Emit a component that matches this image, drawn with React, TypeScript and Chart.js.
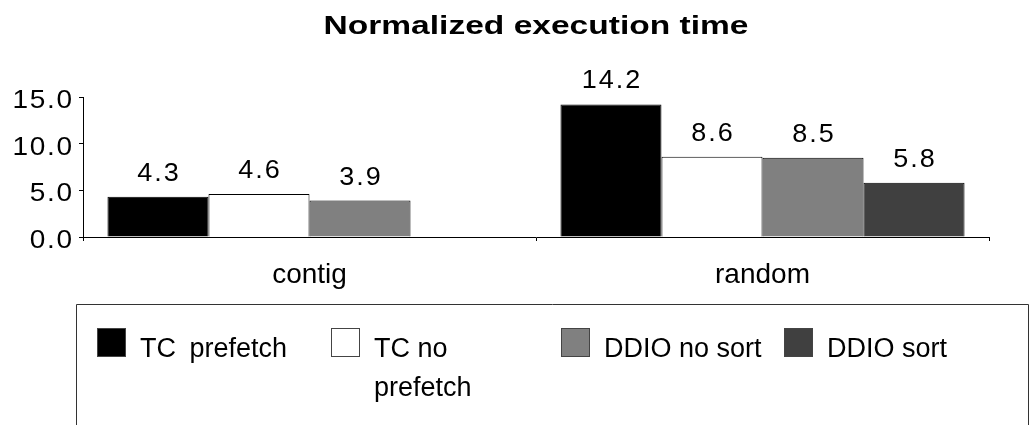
import React, { useEffect, useRef } from "react";
import { Chart, registerables } from "chart.js";

Chart.register(...registerables);

// ---- Data ----
const CATEGORIES = ["contig", "random"];
const SERIES_NAMES = ["TC prefetch", "TC no prefetch", "DDIO no sort", "DDIO sort"];
const TC_PREFETCH = [4.3, 14.2];
const TC_NO_PREFETCH = [4.6, 8.6];
const DDIO_NO_SORT = [3.9, 8.5];
const DDIO_SORT = [null, 5.8];
const SERIES_COLORS = ["#000000", "#ffffff", "#808080", "#404040"];
const Y_MIN = 0;
const Y_MAX = 15;
const Y_STEP = 5;
const TITLE = "Normalized execution time";

const FONT = '"Liberation Sans", Arial, Helvetica, sans-serif';

// draws text horizontally stretched around its anchor
function drawStretched(
  ctx: any,
  text: string,
  x: number,
  y: number,
  align: string,
  sx: number,
  spacing = 0
) {
  ctx.save();
  ctx.translate(x, y);
  ctx.scale(sx, 1);
  ctx.letterSpacing = `${spacing}px`;
  ctx.textAlign = align;
  ctx.textBaseline = "alphabetic";
  const shift = align === "center" ? spacing / 2 : align === "right" ? spacing : 0;
  ctx.fillText(text, shift, 0);
  ctx.restore();
}

const titlePlugin = {
  id: "customTitle",
  afterDraw(chart: any) {
    const ctx = chart.ctx;
    const area = chart.chartArea;
    ctx.save();
    ctx.font = `bold 26px ${FONT}`;
    ctx.fillStyle = "#000";
    drawStretched(ctx, TITLE, (area.left + area.right) / 2, 34, "center", 1.29);
    ctx.restore();
  },
};

const stretchedYLabels = {
  id: "stretchedYLabels",
  afterLayout(chart: any) {
    const s = chart.scales.y;
    if (s && !s.__patched) {
      s.drawLabels = () => {
        const c = s.ctx;
        c.save();
        c.font = `25px ${FONT}`;
        c.fillStyle = "#000";
        s.ticks.forEach((t: any, i: number) => {
          const y = s.getPixelForTick(i);
          drawStretched(c, String(t.label), s.right - 11, y + 11, "right", 1.12, 1.5);
        });
        c.restore();
      };
      s.__patched = true;
    }
  },
};

const valueLabels = {
  id: "valueLabels",
  afterDatasetsDraw(chart: any) {
    const ctx = chart.ctx;
    ctx.save();
    ctx.font = `25px ${FONT}`;
    ctx.fillStyle = "#000";
    chart.data.datasets.forEach((ds: any, i: number) => {
      const meta = chart.getDatasetMeta(i);
      meta.data.forEach((bar: any, j: number) => {
        const v = ds.data[j];
        if (v === null || v === undefined) return;
        drawStretched(ctx, Number(v).toFixed(1), bar.x, bar.y - 16, "center", 1.08, 1.8);
      });
    });
    ctx.restore();
  },
};

const legendPlugin = {
  id: "boxLegend",
  afterDraw(chart: any) {
    const ctx = chart.ctx;
    ctx.save();
    ctx.strokeStyle = "#333";
    ctx.lineWidth = 1;
    ctx.beginPath();
    ctx.moveTo(76.5, 430);
    ctx.lineTo(76.5, 304.5);
    ctx.lineTo(1028.5, 304.5);
    ctx.lineTo(1028.5, 430);
    ctx.stroke();

    const squareX = [97, 331, 561, 784];
    const textGap = 43;
    const top = 328;
    const size = 29;
    ctx.font = `27px ${FONT}`;
    ctx.textAlign = "left";
    ctx.textBaseline = "alphabetic";
    chart.data.datasets.forEach((ds: any, i: number) => {
      const x = squareX[i];
      ctx.fillStyle = ds.backgroundColor;
      ctx.fillRect(x, top, size, size);
      ctx.strokeStyle = "#444";
      ctx.strokeRect(x + 0.5, top + 0.5, size - 1, size - 1);
      // wrap text to the room before the next item
      const tx = x + textGap;
      const nextX = i + 1 < squareX.length ? squareX[i + 1] : 1028;
      const maxW = nextX - tx - 20;
      const words = String(ds.label).split(" ");
      const lines: string[] = [];
      let cur = "";
      words.forEach((w) => {
        const test = cur ? cur + " " + w : w;
        if (cur && ctx.measureText(test).width > maxW) {
          lines.push(cur);
          cur = w;
        } else cur = test;
      });
      if (cur) lines.push(cur);
      ctx.fillStyle = "#000";
      (ctx as any).wordSpacing = i === 0 ? "6px" : "0px";
      lines.forEach((ln, k) => ctx.fillText(ln, tx, 357 + k * 39));
    });
    ctx.restore();
  },
};

export default function App() {
  const canvasRef = useRef<HTMLCanvasElement | null>(null);

  useEffect(() => {
    document.body.style.margin = "0";
    const canvas = canvasRef.current;
    if (!canvas) return;
    const seriesData = [TC_PREFETCH, TC_NO_PREFETCH, DDIO_NO_SORT, DDIO_SORT];
    const chart = new Chart(canvas, {
      type: "bar",
      data: {
        labels: CATEGORIES,
        datasets: SERIES_NAMES.map((name, i) => ({
          label: name,
          data: seriesData[i] as any,
          backgroundColor: SERIES_COLORS[i],
          borderColor: "#000",
          borderWidth: 1,
          categoryPercentage: 0.892,
          barPercentage: 1,
        })),
      },
      options: {
        responsive: false,
        animation: false,
        devicePixelRatio: 1,
        layout: { padding: { top: 97, right: 40, bottom: 128, left: 0 } },
        plugins: {
          legend: { display: false },
          title: { display: false },
          tooltip: { enabled: false },
        },
        scales: {
          x: {
            offset: true,
            grid: {
              offset: true,
              drawOnChartArea: false,
              drawTicks: true,
              tickLength: 4,
              color: "#000",
              tickColor: "#000",
            },
            border: { display: true, color: "#000", width: 1 },
            ticks: {
              color: "#000",
              font: { family: FONT, size: 28 },
              padding: 17,
              maxRotation: 0,
            },
            afterFit: (s: any) => {
              s.height = 60;
            },
          },
          y: {
            min: Y_MIN,
            max: Y_MAX,
            grid: {
              drawOnChartArea: false,
              drawTicks: true,
              tickLength: 4,
              color: "#000",
              tickColor: "#000",
            },
            border: { display: true, color: "#000", width: 1 },
            ticks: {
              stepSize: Y_STEP,
              color: "#000",
              font: { family: FONT, size: 25 },
              padding: 3,
              callback: (v: any) => Number(v).toFixed(1),
            },
            afterFit: (s: any) => {
              s.width = 83;
            },
          },
        },
      },
      plugins: [stretchedYLabels, valueLabels, titlePlugin, legendPlugin],
    });
    return () => chart.destroy();
  }, []);

  return (
    <div style={{ width: 1029, height: 425, position: "relative" }}>
      <canvas ref={canvasRef} width={1029} height={425} style={{ display: "block" }} />
    </div>
  );
}
